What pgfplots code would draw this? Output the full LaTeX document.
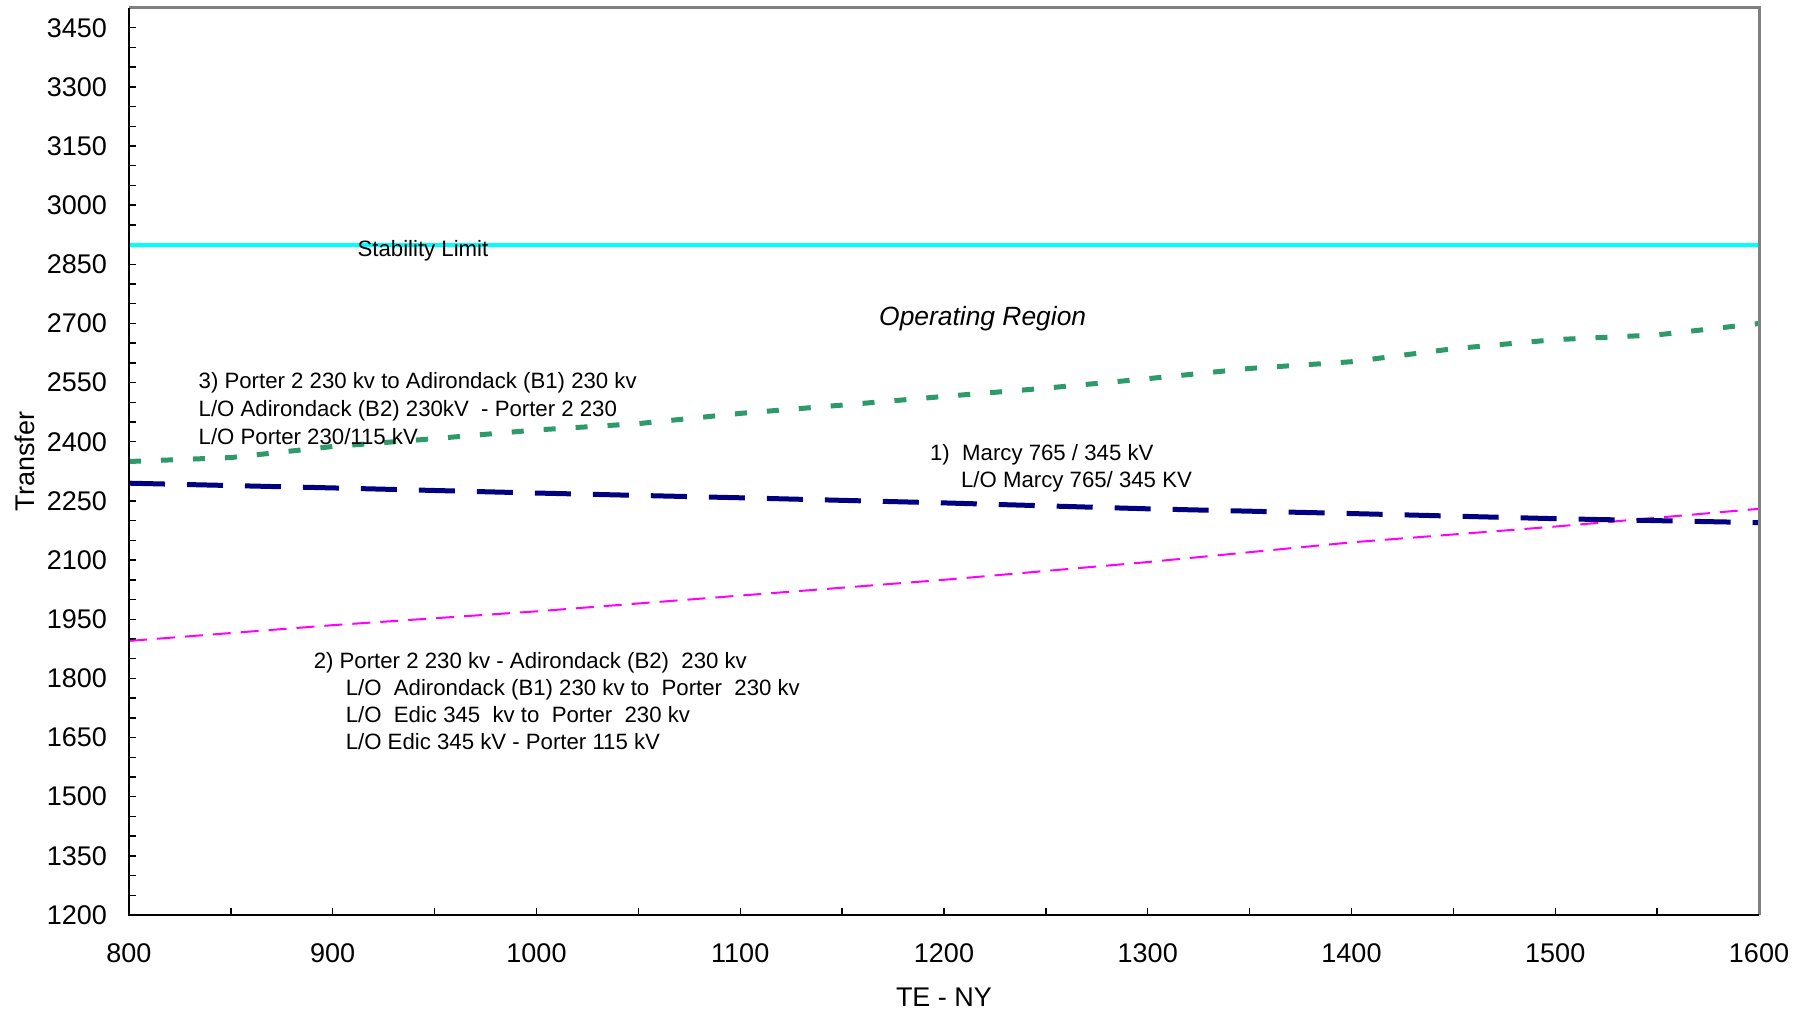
\documentclass[border=0pt]{standalone}
\usepackage{pgfplots}
\pgfplotsset{compat=1.18}
\usepackage{fontspec}
\setmainfont{Liberation Sans}
\definecolor{stab}{HTML}{00FFFF}
\definecolor{grn}{HTML}{2E9A6A}
\definecolor{nvy}{HTML}{000080}
\definecolor{mag}{HTML}{FF00FF}
\begin{document}
\begin{tikzpicture}
\path[use as bounding box] (-64.5pt,-48.5pt) rectangle (839pt,457.5pt);
\begin{axis}[
 at={(0,0)}, anchor=south west,
 scale only axis, width=815pt, height=453.5pt,
 xmin=800, xmax=1600, ymin=1200, ymax=3500,
 xtick={800,900,...,1600}, ytick={1200,1350,...,3450},
 minor x tick num=1, minor y tick num=2,
 tick align=inside, xtick pos=left, ytick pos=left,
 major tick length=3.5pt, minor tick length=3.5pt,
 tick style={black, line width=0.7pt},
 axis line style={draw=none},
 /pgf/number format/assume math mode=true,
 /pgf/number format/1000 sep={},
 tick label style={font=\fontsize{13.5}{15}\selectfont},
 xticklabel style={yshift=-11pt},
 yticklabel style={xshift=-7.5pt},
 xlabel={TE - NY}, ylabel={Transfer},
 label style={font=\fontsize{13.5}{15}\selectfont},
 xlabel style={at={(axis description cs:0.5,-0.0904)}, anchor=center},
 ylabel style={at={(axis description cs:-0.0638,0.5)}, anchor=center},
 clip=false,
]
\addplot[stab, line width=2pt] coordinates {(800,2900) (1600,2900)};
\addplot[grn, line width=2.5pt, dash pattern=on 6pt off 10pt] coordinates {
(800,2350) (850,2360) (900,2388) (950,2408) (1000,2430) (1050,2446) (1100,2472)
(1150,2493) (1200,2515) (1250,2536) (1300,2560) (1350,2586) (1400,2603)
(1450,2636) (1500,2659) (1550,2671) (1600,2700)};
\addplot[mag, line width=1pt, dash pattern=on 9pt off 5pt] coordinates {
(800,1895) (900,1935) (1000,1970) (1100,2010) (1200,2050) (1300,2095)
(1400,2145) (1500,2185) (1600,2230)};
\addplot[nvy, line width=2.5pt, dash pattern=on 18pt off 11pt] coordinates {
(800,2295) (900,2283) (1000,2270) (1100,2258) (1200,2245) (1300,2230)
(1400,2218) (1500,2205) (1600,2195)};
\draw[color=gray, line width=1.5pt] (rel axis cs:0,1) -- (rel axis cs:1,1) -- (rel axis cs:1,0);
\draw[black, line width=1pt] (rel axis cs:0,1) -- (rel axis cs:0,0) -- (rel axis cs:1,0);
\node[anchor=west, inner sep=0pt, font=\fontsize{11.1}{13}\selectfont] at (axis cs:912,2884) {Stability Limit};
\node[inner sep=0pt, font=\fontsize{13.2}{15}\selectfont\itshape] at (axis cs:1219,2713) {Operating Region};
\node[anchor=west, inner sep=0pt, align=left, font=\fontsize{11.1}{14}\selectfont] at (axis cs:834,2485)
 {3) Porter 2 230 kv to Adirondack (B1) 230 kv\\
  L/O Adirondack (B2) 230kV\ \ - Porter 2 230\\
  L/O Porter 230/115 kV};
\node[anchor=west, inner sep=0pt, align=left, font=\fontsize{11.1}{13.5}\selectfont] at (axis cs:1193,2332)
 {1)\ \ Marcy 765 / 345 kV\\
  \hspace*{15.5pt}L/O Marcy 765/ 345 KV};
\node[anchor=west, inner sep=0pt, align=left, font=\fontsize{11.1}{13.4}\selectfont] at (axis cs:890.5,1743)
 {2) Porter 2 230 kv - Adirondack (B2)\ \ 230 kv\\
  \hspace*{16pt}L/O\ \ Adirondack (B1) 230 kv to\ \ Porter\ \ 230 kv\\
  \hspace*{16pt}L/O\ \ Edic 345\ \ kv to\ \ Porter\ \ 230 kv\\
  \hspace*{16pt}L/O Edic 345 kV - Porter 115 kV};
\end{axis}
\end{tikzpicture}
\end{document}
